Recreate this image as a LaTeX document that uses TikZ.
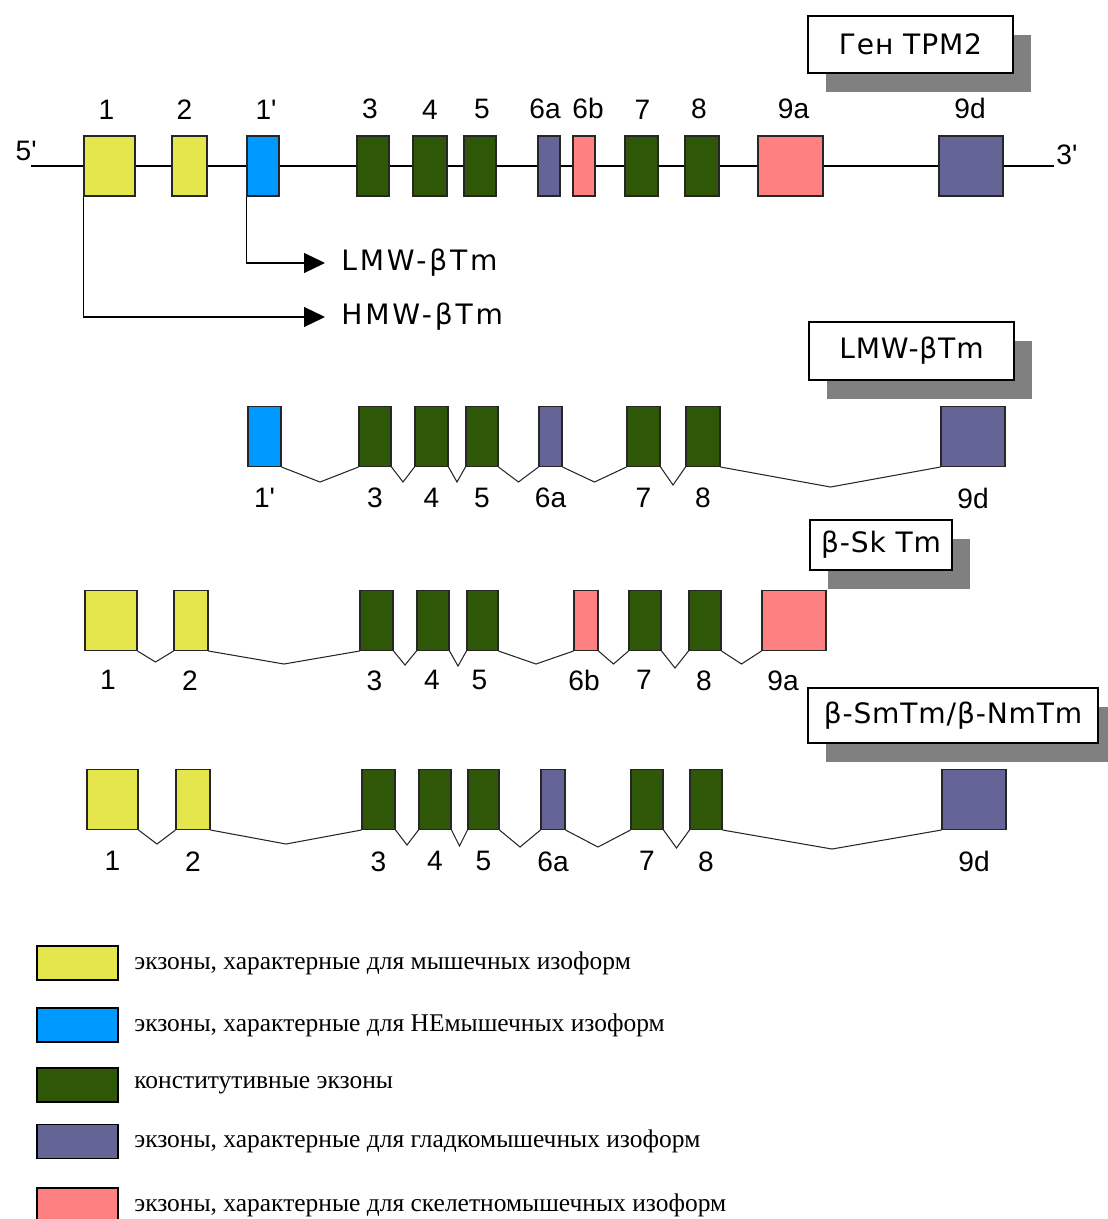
\documentclass[tikz,border=0pt]{standalone}
\usepackage{fontspec}
\setmainfont{Liberation Sans}
\newfontfamily\isofont{DejaVu Sans}[LetterSpace=10]
\newfontfamily\ttlfont{DejaVu Sans}[LetterSpace=3]
\newfontfamily\legfont{Liberation Serif}
\usepackage{tikz}
\usetikzlibrary{arrows.meta, positioning, calc, shadows}
\definecolor{yel}{HTML}{E5E54C}
\definecolor{blu}{HTML}{0099FF}
\definecolor{grn}{HTML}{2F5708}
\definecolor{pur}{HTML}{646497}
\definecolor{pnk}{HTML}{FF8080}
\definecolor{shd}{HTML}{808080}

\begin{document}
\begin{tikzpicture}[x=0.02cm, y=-0.02cm,
exon/.style={rectangle, draw=black!85, line width=0.6pt, inner sep=0pt, minimum height=1.2cm},
num/.style={inner sep=0pt, font=\fontsize{16}{19}\selectfont},
iso/.style={inner xsep=0.32cm, inner ysep=0pt, font=\isofont\fontsize{16}{19}\selectfont},
bbone/.style={line width=1.1pt, black},
tbone/.style={line width=0.6pt, black},
splice/.style={line width=0.6pt, black!85},
arr/.style={-{Triangle[length=0.42cm, width=0.4cm]}, line width=0.7pt},
ttl/.style={rectangle, draw, line width=0.9pt, fill=white, inner sep=0pt,
font=\ttlfont\fontsize{16}{19}\selectfont, drop shadow={shadow xshift=0.36cm, shadow yshift=-0.38cm, fill=shd, opacity=1}},
swatch/.style={rectangle, draw, line width=1pt, inner sep=0pt, minimum width=1.62cm, minimum height=0.68cm},
legtxt/.style={inner sep=0pt, anchor=west, font=\legfont\fontsize{14.5}{17}\selectfont} ]
\useasboundingbox (0,0) rectangle (1107,1219);

% gene TPM2
\node[ttl, minimum width=4.1cm, minimum height=1.14cm] (tgene) at (910.5,44.5) {Ген TPM2};
\foreach \n/\a/\b/\c/\t/\s in {g-1/84/135/yel/1/-3, g-2/172/207/yel/2/-5, g-1p/247/279/blu/1\textquotesingle/3,
  g-3/357/389/grn/3/-3, g-4/413/447/grn/4/0, g-5/464/496/grn/5/2, g-6a/538/560/pur/6a/-4, g-6b/573/595/pnk/6b/4,
  g-7/625/658/grn/7/1, g-8/685/719/grn/8/-3, g-9a/758/823/pnk/9a/3, g-9d/939/1003/pur/9d/-1}
{
  \node[exon, fill=\c, minimum width={(\b-\a)*0.02cm}] (\n) at ({(\a+\b)/2},166) {};
  \node[num, anchor=south] (\n-t) at ([xshift={\s*0.02cm}, yshift=0.32cm]\n.north) {\t};
}
\node[num, anchor=base east] (p5) at (37,161) {5\textquotesingle};
\node[num, anchor=base west] (p3) at (1056,165) {3\textquotesingle};
\coordinate (c5) at (31,166);
\coordinate (c3) at (1054,166);
\foreach \a/\b in {c5/g-1, g-1/g-2, g-2/g-1p, g-1p/g-3, g-3/g-4, g-4/g-5, g-5/g-6a, g-6a/g-6b, g-6b/g-7, g-7/g-8, g-8/g-9a}
  \draw[bbone] (\a.east) -- (\b.west);
\draw[tbone] (g-9a.east) -- (g-9d.west);
\draw[tbone] (g-9d.east) -- (c3);

\node[iso, anchor=west] (lmw) at (325,263) {LMW-βTm};
\node[iso, anchor=west] (hmw) at (325,317) {HMW-βTm};
\draw[arr] (g-1p.south west) |- (lmw.west);
\draw[arr] (g-1.south west) |- (hmw.west);

% LMW-bTm
\node[ttl, minimum width=4.1cm, minimum height=1.16cm] (tlmw) at (911.5,351) {LMW-βTm};
\foreach \n/\a/\b/\c/\t in {l-1p/248/281/blu/1\textquotesingle, l-3/359/391/grn/3, l-4/415/448/grn/4, l-5/466/498/grn/5,
  l-6a/539/562/pur/6a, l-7/627/660/grn/7, l-8/686/720/grn/8, l-9d/941/1005/pur/9d}
{
  \node[exon, fill=\c, minimum width={(\b-\a)*0.02cm}] (\n) at ({(\a+\b)/2},436.5) {};
  \node[num, anchor=north] (\n-t) at ([yshift=-0.42cm]\n.south) {\t};
}
\foreach \a/\b/\d in {l-1p/l-3/15, l-3/l-4/15, l-4/l-5/15, l-5/l-6a/15, l-6a/l-7/15, l-7/l-8/18, l-8/l-9d/20}
  \draw[splice] (\a.south east) -- ($(\a.south east)!.5!(\b.south west)+(0,\d)$) -- (\b.south west);

% b-SkTm
\node[ttl, minimum width=2.84cm, minimum height=1.0cm] (tsk) at (881,545) {β-Sk Tm};
\foreach \n/\a/\b/\c/\t/\s in {s-1/85/137/yel/1/-3, s-2/174/208/yel/2/-1, s-3/360/393/grn/3/-2, s-4/417/449/grn/4/-1,
  s-5/467/498/grn/5/-3, s-6b/574/598/pnk/6b/-2, s-7/629/661/grn/7/-1, s-8/689/721/grn/8/-1, s-9a/762/826/pnk/9a/-11}
{
  \node[exon, fill=\c, minimum width={(\b-\a)*0.02cm}] (\n) at ({(\a+\b)/2},620.5) {};
  \node[num, anchor=north] (\n-t) at ([xshift={\s*0.02cm}, yshift=-0.38cm]\n.south) {\t};
}
\foreach \a/\b/\d in {s-1/s-2/11, s-2/s-3/13, s-3/s-4/14, s-4/s-5/15, s-5/s-6b/13, s-6b/s-7/13, s-7/s-8/17, s-8/s-9a/13}
  \draw[splice] (\a.south east) -- ($(\a.south east)!.5!(\b.south west)+(0,\d)$) -- (\b.south west);

% b-SmTm/b-NmTm
\node[ttl, minimum width=5.8cm, minimum height=1.1cm] (tsm) at (953,715.5) {β-SmTm/β-NmTm};
\foreach \n/\a/\b/\c/\t in {m-1/87/138/yel/1, m-2/176/210/yel/2, m-3/362/395/grn/3, m-4/419/451/grn/4,
  m-5/468/499/grn/5, m-6a/541/565/pur/6a, m-7/631/663/grn/7, m-8/690/722/grn/8, m-9d/942/1006/pur/9d}
{
  \node[exon, fill=\c, minimum width={(\b-\a)*0.02cm}] (\n) at ({(\a+\b)/2},799.5) {};
  \node[num, anchor=north] (\n-t) at ([yshift=-0.42cm]\n.south) {\t};
}
\foreach \a/\b/\d in {m-1/m-2/14, m-2/m-3/14, m-3/m-4/15, m-4/m-5/16, m-5/m-6a/17, m-6a/m-7/17, m-7/m-8/18, m-8/m-9d/19}
  \draw[splice] (\a.south east) -- ($(\a.south east)!.5!(\b.south west)+(0,\d)$) -- (\b.south west);

% legend
\foreach \i/\c/\yy/\t in {1/yel/963/{экзоны, характерные для мышечных изоформ},
  2/blu/1025/{экзоны, характерные для НЕмышечных изоформ},
  3/grn/1085/{конститутивные экзоны},
  4/pur/1141.5/{экзоны, характерные для гладкомышечных изоформ},
  5/pnk/1205/{экзоны, характерные для скелетномышечных изоформ}}
{
  \node[swatch, fill=\c] (lg\i) at (77.5,\yy) {};
  \node[legtxt] (lt\i) at (134,\yy) {\t};
}
\end{tikzpicture}
\end{document}
